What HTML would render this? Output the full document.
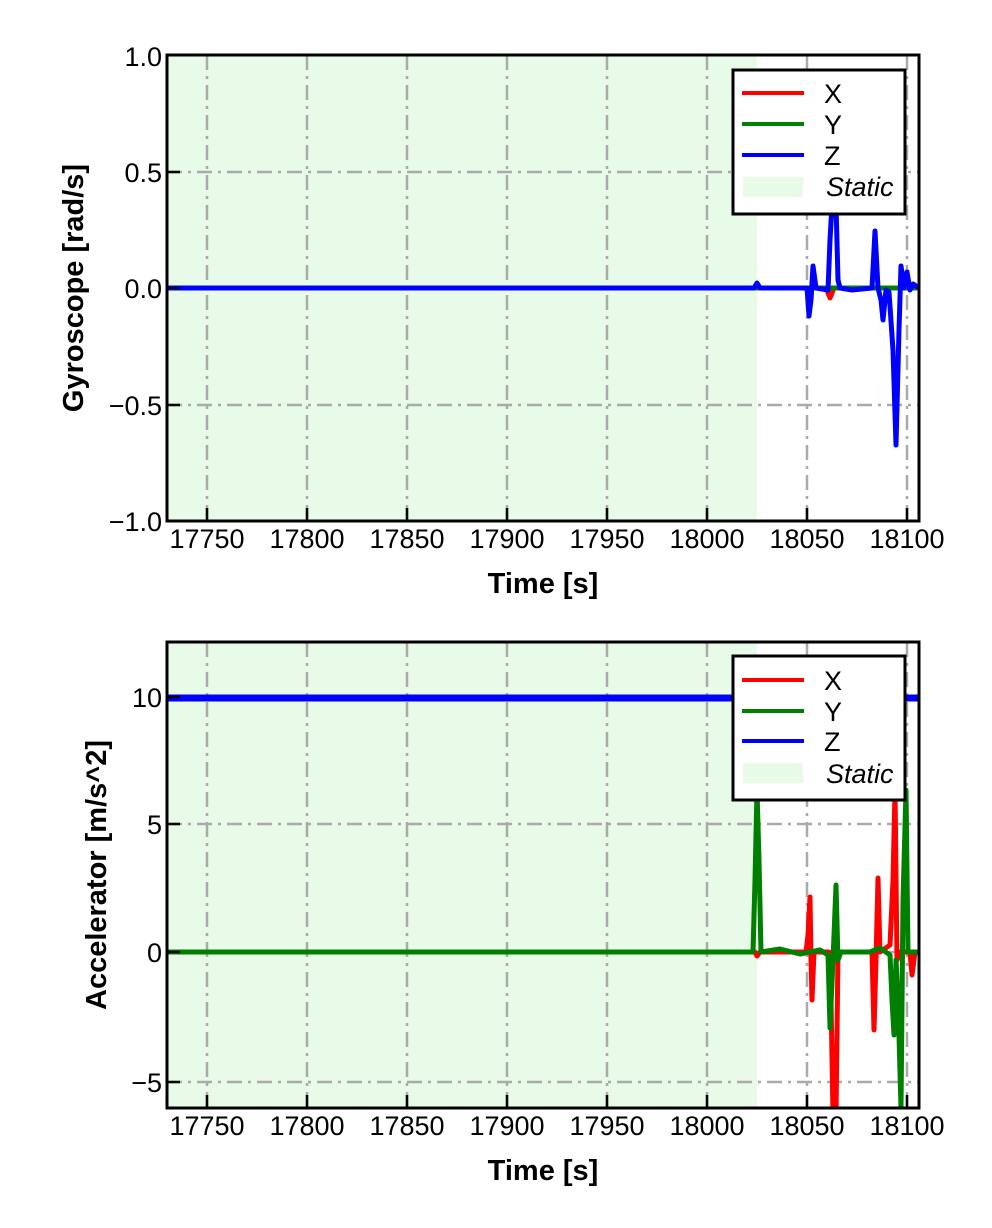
<!DOCTYPE html>
<html><head><meta charset="utf-8"><style>body{margin:0;background:#fff}svg{display:block}text{font-family:"Liberation Sans",sans-serif}</style></head><body>
<svg width="992" height="1228" viewBox="0 0 992 1228" xmlns="http://www.w3.org/2000/svg">
<defs>
<clipPath id="c1"><rect x="167" y="55" width="752" height="466"/></clipPath>
<clipPath id="c2"><rect x="167" y="642" width="752" height="466"/></clipPath>
</defs>
<!-- TOP -->
<rect x="167" y="55" width="590" height="466" fill="#e8fbe8"/>
<g stroke="#aaa" stroke-width="2.5" stroke-dasharray="15,6,3,6" fill="none">
<path d="M207 55V521M307 55V521M407 55V521M507 55V521M607 55V521M707 55V521M807 55V521M907 55V521"/>
<path d="M167 172H919M167 288H919M167 405H919"/>
</g>
<g clip-path="url(#c1)" fill="none" stroke-linejoin="round" stroke-width="5">
<polyline stroke="#f00" points="167,288 826,288 830,298 834,288 919,288"/>
<polyline stroke="#008000" points="167,288 919,288"/>
<polyline stroke="#00f" points="167,288 754,288 757,283 760,288 807,288 809,316 811,300 813,266 816,288 828,290 830,240 832,205 834,210 836,205 838,280 840,288 852,290 872,288 875,231 878,288 881,300 883,320 886,290 889,292 893,350 896,445 899,330 901,266 904,288 907,272 910,290 913,284 919,288"/>
</g>
<rect x="167" y="55" width="752" height="466" fill="none" stroke="#000" stroke-width="3"/>
<g stroke="#000" stroke-width="2.5">
<path d="M207 521v-13M307 521v-13M407 521v-13M507 521v-13M607 521v-13M707 521v-13M807 521v-13M907 521v-13"/>
<path d="M167 55h13M167 172h13M167 288h13M167 405h13M167 521h13"/>
</g>
<g font-size="27" fill="#000" text-anchor="end">
<text x="162" y="66">1.0</text><text x="162" y="182">0.5</text><text x="162" y="298">0.0</text><text x="162" y="415">−0.5</text><text x="162" y="531">−1.0</text>
</g>
<g font-size="27" fill="#000" text-anchor="middle">
<text x="207" y="548">17750</text><text x="307" y="548">17800</text><text x="407" y="548">17850</text><text x="507" y="548">17900</text><text x="607" y="548">17950</text><text x="707" y="548">18000</text><text x="807" y="548">18050</text><text x="907" y="548">18100</text>
</g>
<text x="543" y="593" font-size="29" font-weight="bold" text-anchor="middle">Time [s]</text>
<text transform="translate(83,288) rotate(-90)" font-size="29" font-weight="bold" text-anchor="middle">Gyroscope [rad/s]</text>
<rect x="733" y="70" width="172" height="144" fill="#fff" stroke="#000" stroke-width="3"/>
<path d="M742 93h62" stroke="#f00" stroke-width="4"/><path d="M742 124h62" stroke="#008000" stroke-width="4"/><path d="M742 155h62" stroke="#00f" stroke-width="4"/>
<rect x="743" y="177" width="60" height="20" fill="#e8fbe8"/>
<g font-size="27"><text x="824" y="103">X</text><text x="824" y="134">Y</text><text x="824" y="165">Z</text></g>
<text x="826" y="196" font-size="27" font-style="italic" font-family="Liberation Serif,serif">Static</text>

<!-- BOTTOM -->
<rect x="167" y="642" width="590" height="466" fill="#e8fbe8"/>
<g stroke="#aaa" stroke-width="2.5" stroke-dasharray="15,6,3,6" fill="none">
<path d="M207 642V1108M307 642V1108M407 642V1108M507 642V1108M607 642V1108M707 642V1108M807 642V1108M907 642V1108"/>
<path d="M167 697H919M167 824H919M167 952H919M167 1082H919"/>
</g>
<g clip-path="url(#c2)" fill="none" stroke-linejoin="round">
<path d="M167 698H919" stroke="#00f" stroke-width="7"/>
<polyline stroke="#f00" stroke-width="5" points="167,952 755,952 757,956 760,952 806,952 808,935 810,897 811,960 812,1000 814,952 829,952 831,1000 833,1115 836,1115 838,952 872,952 874,1030 876,960 878,878 880,952 890,945 893,880 895,790 897,960 900,952 910,952 912,975 915,952 919,952"/>
<polyline stroke="#008000" stroke-width="5" points="167,952 753,952 755,880 757,790 759,860 761,952 780,949 800,954 820,950 828,955 830,1028 833,960 836,885 838,960 841,952 870,952 880,948 890,955 892,1000 894,1035 896,960 898,1000 901,1108 903,900 906,790 908,952 919,952"/>
</g>
<rect x="167" y="642" width="752" height="466" fill="none" stroke="#000" stroke-width="3"/>
<g stroke="#000" stroke-width="2.5">
<path d="M207 1108v-13M307 1108v-13M407 1108v-13M507 1108v-13M607 1108v-13M707 1108v-13M807 1108v-13M907 1108v-13"/>
<path d="M167 697h13M167 824h13M167 952h13M167 1082h13"/>
</g>
<g font-size="27" fill="#000" text-anchor="end">
<text x="162" y="707">10</text><text x="162" y="834">5</text><text x="162" y="962">0</text><text x="162" y="1092">−5</text>
</g>
<g font-size="27" fill="#000" text-anchor="middle">
<text x="207" y="1135">17750</text><text x="307" y="1135">17800</text><text x="407" y="1135">17850</text><text x="507" y="1135">17900</text><text x="607" y="1135">17950</text><text x="707" y="1135">18000</text><text x="807" y="1135">18050</text><text x="907" y="1135">18100</text>
</g>
<text x="543" y="1180" font-size="29" font-weight="bold" text-anchor="middle">Time [s]</text>
<text transform="translate(106,875) rotate(-90)" font-size="29" font-weight="bold" text-anchor="middle">Accelerator [m/s^2]</text>
<rect x="733" y="656" width="172" height="144" fill="#fff" stroke="#000" stroke-width="3"/>
<path d="M742 680h62" stroke="#f00" stroke-width="4"/><path d="M742 711h62" stroke="#008000" stroke-width="4"/><path d="M742 741h62" stroke="#00f" stroke-width="4"/>
<rect x="743" y="763" width="60" height="20" fill="#e8fbe8"/>
<g font-size="27"><text x="824" y="690">X</text><text x="824" y="721">Y</text><text x="824" y="751">Z</text></g>
<text x="826" y="783" font-size="27" font-style="italic" font-family="Liberation Serif,serif">Static</text>
</svg>
</body></html>
